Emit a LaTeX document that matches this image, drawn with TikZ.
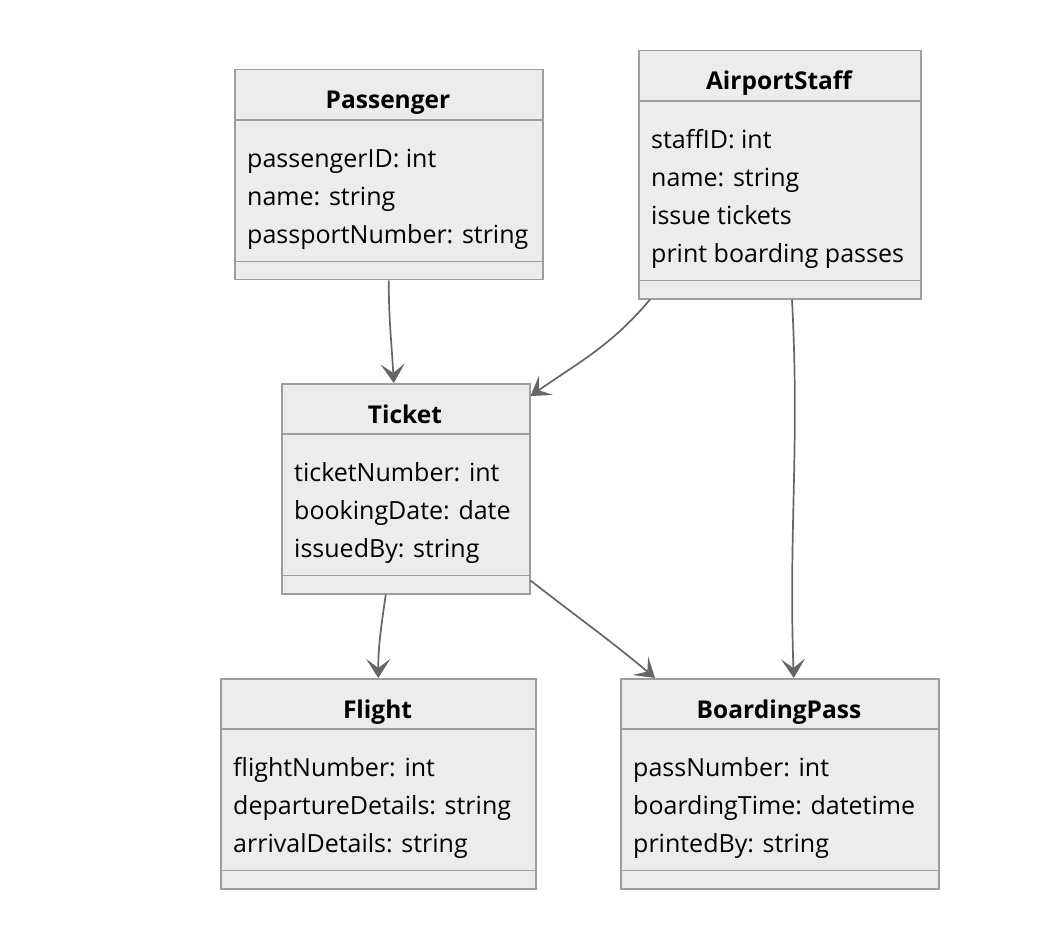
\documentclass[tikz,border=0pt]{standalone}
\usepackage{fontspec}
\setmainfont{Open Sans}
\usetikzlibrary{arrows.meta}
\definecolor{boxfill}{HTML}{ECECEC}
\definecolor{boxline}{HTML}{9E9E9E}
\definecolor{arrline}{HTML}{666666}
\tikzset{
  umlbox/.style={draw=boxline, fill=boxfill, line width=1.5pt, inner sep=0pt, anchor=north west},
  divider/.style={draw=boxline, line width=1.5pt},
  ttl/.style={font=\fontsize{24.5}{28}\selectfont\bfseries, anchor=center, inner sep=0pt, text height=17pt, text depth=5pt},
  attr/.style={font=\fontsize{25}{28}\selectfont, anchor=west, inner sep=0pt, text height=18pt, text depth=5pt},
  arr/.style={draw=arrline, line width=1.7pt, -{Stealth[length=19pt, width=24pt, inset=9pt, line width=1pt]}}
}
\begin{document}
\begin{tikzpicture}[x=1pt, y=-1pt]
\useasboundingbox (0,0) rectangle (1042,936);
% Passenger
\node[umlbox, minimum width=308pt, minimum height=210pt] (p) at (234,69) {};
\draw[divider] ([yshift=-51pt]p.north west) -- ([yshift=-51pt]p.north east);
\draw[divider] ([yshift=19pt]p.south west) -- ([yshift=19pt]p.south east);
\node[ttl] (pt) at (388,103) {Passenger};
\node[attr] (p1) at (247,161) {passengerID: int};
\node[attr] (p2) at (247,199) {name: string};
\node[attr] (p3) at (247,237) {passportNumber: string};
% AirportStaff
\node[umlbox, minimum width=282pt, minimum height=248pt] (s) at (638,50) {};
\draw[divider] ([yshift=-51pt]s.north west) -- ([yshift=-51pt]s.north east);
\draw[divider] ([yshift=19pt]s.south west) -- ([yshift=19pt]s.south east);
\node[ttl] (st) at (779,84) {AirportStaff};
\node[attr] (s1) at (651,142) {staffID: int};
\node[attr] (s2) at (651,180) {name: string};
\node[attr] (s3) at (651,218) {issue tickets};
\node[attr] (s4) at (651,256) {print boarding passes};
% Ticket
\node[umlbox, minimum width=248pt, minimum height=210pt] (t) at (281,383) {};
\draw[divider] ([yshift=-51pt]t.north west) -- ([yshift=-51pt]t.north east);
\draw[divider] ([yshift=19pt]t.south west) -- ([yshift=19pt]t.south east);
\node[ttl] (tt) at (405,417) {Ticket};
\node[attr] (t1) at (294,475) {ticketNumber: int};
\node[attr] (t2) at (294,513) {bookingDate: date};
\node[attr] (t3) at (294,551) {issuedBy: string};
% Flight
\node[umlbox, minimum width=315pt, minimum height=210pt] (f) at (220,678) {};
\draw[divider] ([yshift=-51pt]f.north west) -- ([yshift=-51pt]f.north east);
\draw[divider] ([yshift=19pt]f.south west) -- ([yshift=19pt]f.south east);
\node[ttl] (ft) at (377.5,712) {Flight};
\node[attr] (f1) at (233,770) {flightNumber: int};
\node[attr] (f2) at (233,808) {departureDetails: string};
\node[attr] (f3) at (233,846) {arrivalDetails: string};
% BoardingPass
\node[umlbox, minimum width=318pt, minimum height=210pt] (b) at (620,678) {};
\draw[divider] ([yshift=-51pt]b.north west) -- ([yshift=-51pt]b.north east);
\draw[divider] ([yshift=19pt]b.south west) -- ([yshift=19pt]b.south east);
\node[ttl] (bt) at (779,712) {BoardingPass};
\node[attr] (b1) at (633,770) {passNumber: int};
\node[attr] (b2) at (633,808) {boardingTime: datetime};
\node[attr] (b3) at (633,846) {printedBy: string};
% connectors
\draw[arr] (p.south) to[out=-90, in=93] ([xshift=-12pt]t.north);
\draw[arr] ([xshift=12pt]s.south west) to[out=-130, in=35] ([yshift=-13pt]t.north east);
\draw[arr] ([xshift=154pt]s.south west) to[out=-87, in=92] ([xshift=14pt]b.north);
\draw[arr] ([xshift=-20pt]t.south) to[out=-98, in=90] (f.north);
\draw[arr] ([yshift=14pt]t.south east) to[out=-38, in=140] ([xshift=35pt]b.north west);
\end{tikzpicture}
\end{document}
